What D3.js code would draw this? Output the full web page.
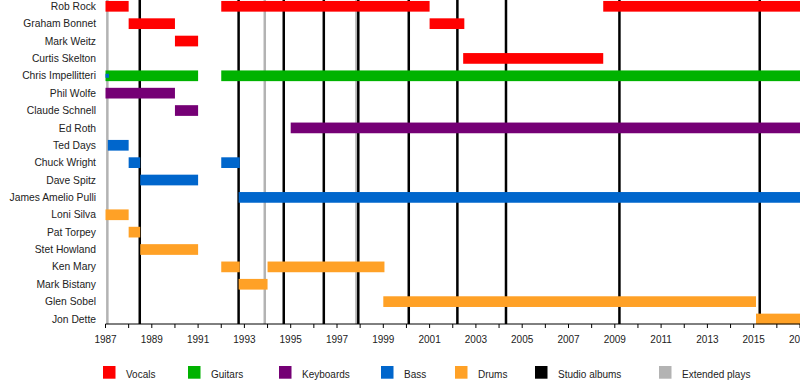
<!DOCTYPE html>
<html>
<head>
<meta charset="utf-8">
<script src="https://cdn.jsdelivr.net/npm/d3@7"></script>
<style>
  body { margin: 0; background: #fff; }
  svg { display: block; font-family: "Liberation Sans", Arial, sans-serif; }
</style>
</head>
<body>
<svg id="chart" width="800" height="384"></svg>
<script>
// members, top to bottom
var members = ["Rob Rock", "Graham Bonnet", "Mark Weitz", "Curtis Skelton", "Chris Impellitteri",
  "Phil Wolfe", "Claude Schnell", "Ed Roth", "Ted Days", "Chuck Wright", "Dave Spitz",
  "James Amelio Pulli", "Loni Silva", "Pat Torpey", "Stet Howland", "Ken Mary",
  "Mark Bistany", "Glen Sobel", "Jon Dette"];

var roles = ["Vocals", "Guitars", "Keyboards", "Bass", "Drums", "Studio albums", "Extended plays"];

// [member, role, from, to]
var periods = [
  ["Rob Rock", "Vocals", 1987, 1988],
  ["Rob Rock", "Vocals", 1992, 2001],
  ["Rob Rock", "Vocals", 2008.5, 2020],
  ["Graham Bonnet", "Vocals", 1988, 1990],
  ["Graham Bonnet", "Vocals", 2001, 2002.5],
  ["Mark Weitz", "Vocals", 1990, 1991],
  ["Curtis Skelton", "Vocals", 2002.45, 2008.5],
  ["Chris Impellitteri", "Guitars", 1987, 1991],
  ["Chris Impellitteri", "Guitars", 1992, 2020],
  ["Phil Wolfe", "Keyboards", 1987, 1990],
  ["Claude Schnell", "Keyboards", 1990, 1991],
  ["Ed Roth", "Keyboards", 1995, 2020],
  ["Ted Days", "Bass", 1987.1, 1988],
  ["Chuck Wright", "Bass", 1988, 1988.5],
  ["Chuck Wright", "Bass", 1992, 1992.8],
  ["Dave Spitz", "Bass", 1988.5, 1991],
  ["James Amelio Pulli", "Bass", 1992.75, 2020],
  ["Loni Silva", "Drums", 1987, 1988],
  ["Pat Torpey", "Drums", 1988, 1988.5],
  ["Stet Howland", "Drums", 1988.5, 1991],
  ["Ken Mary", "Drums", 1992, 1992.8],
  ["Ken Mary", "Drums", 1994, 1999.05],
  ["Mark Bistany", "Drums", 1992.75, 1994],
  ["Glen Sobel", "Drums", 1999, 2015.1],
  ["Jon Dette", "Drums", 2015.1, 2020]
];

// thin secondary bars
var secondary = [
  ["Chris Impellitteri", "Bass", 1987, 1987.15]
];

var studioAlbums = [1988.48, 1992.75, 1994.7, 1996.43, 1997.92, 2000.1, 2002.2, 2004.3, 2009.2, 2015.26];
var extendedPlays = [1987.08, 1993.88, 1997.84];

var yearTicks = d3.range(1987, 2021);
var yearLabels = d3.range(1987, 2021, 2);

var colors = {
  "Vocals": "#ff0000",
  "Guitars": "#00b200",
  "Keyboards": "#750075",
  "Bass": "#0066cc",
  "Drums": "#ffa126",
  "Studio albums": "#000000",
  "Extended plays": "#b3b3b3"
};

var svg = d3.select("#chart");

var x = d3.scaleLinear().domain([1987, 2020]).range([105.5, 105.5 + 33 * 23.15]);
var y = d3.scalePoint().domain(members).range([6.3, 319]);
var barH = 10.7;
var axisY = 324;

// release lines
svg.append("g").selectAll("line.ep")
  .data(extendedPlays).join("line")
  .attr("x1", d => x(d)).attr("x2", d => x(d))
  .attr("y1", 0).attr("y2", axisY)
  .attr("stroke", colors["Extended plays"]).attr("stroke-width", 2.5);

svg.append("g").selectAll("line.album")
  .data(studioAlbums).join("line")
  .attr("x1", d => x(d)).attr("x2", d => x(d))
  .attr("y1", 0).attr("y2", axisY)
  .attr("stroke", colors["Studio albums"]).attr("stroke-width", 2.5);

// bars
svg.append("g").selectAll("rect")
  .data(periods).join("rect")
  .attr("x", d => x(d[2]))
  .attr("width", d => x(d[3]) - x(d[2]))
  .attr("y", d => y(d[0]) - barH / 2)
  .attr("height", barH)
  .attr("fill", d => colors[d[1]]);

svg.append("g").selectAll("rect")
  .data(secondary).join("rect")
  .attr("x", d => x(d[2]))
  .attr("width", d => x(d[3]) - x(d[2]))
  .attr("y", d => y(d[0]) - 2)
  .attr("height", 4)
  .attr("fill", d => colors[d[1]]);

// names
svg.append("g").selectAll("text")
  .data(members).join("text")
  .attr("x", 96)
  .attr("y", d => y(d))
  .attr("dy", "0.35em")
  .attr("text-anchor", "end")
  .attr("font-size", "10.3px")
  .attr("fill", "#222")
  .text(d => d);

// time axis
var axis = svg.append("g").attr("transform", "translate(0," + axisY + ")");
axis.append("line")
  .attr("x1", x(1987)).attr("x2", 800)
  .attr("stroke", "#000").attr("stroke-width", 1);
axis.selectAll("line.tick")
  .data(yearTicks).join("line")
  .attr("x1", d => x(d)).attr("x2", d => x(d))
  .attr("y1", 0).attr("y2", 4)
  .attr("stroke", "#000");
axis.selectAll("text")
  .data(yearLabels).join("text")
  .attr("x", d => x(d))
  .attr("y", 19)
  .attr("text-anchor", "middle")
  .attr("font-size", "10px")
  .attr("fill", "#222")
  .text(d => d);

// legend
var legendX = [103, 188, 279, 381, 455, 535, 659];
var legend = svg.append("g").selectAll("g")
  .data(roles).join("g")
  .attr("transform", (d, i) => "translate(" + legendX[i] + ",366)");
legend.append("rect")
  .attr("width", 12.5).attr("height", 12.7)
  .attr("fill", d => colors[d]);
legend.append("text")
  .attr("x", 23)
  .attr("y", 11.5)
  .attr("font-size", "10px")
  .attr("fill", "#222")
  .text(d => d);
</script>
</body>
</html>
